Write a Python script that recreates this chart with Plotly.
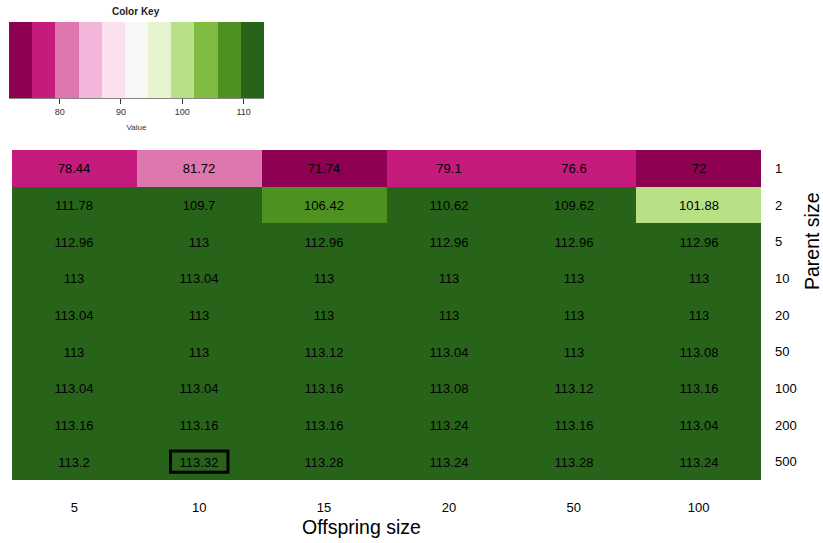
import plotly.graph_objects as go

offspring = ["5", "10", "15", "20", "50", "100"]
parent = ["1", "2", "5", "10", "20", "50", "100", "200", "500"]
values = [
    ["78.44", "81.72", "71.74", "79.1", "76.6", "72"],
    ["111.78", "109.7", "106.42", "110.62", "109.62", "101.88"],
    ["112.96", "113", "112.96", "112.96", "112.96", "112.96"],
    ["113", "113.04", "113", "113", "113", "113"],
    ["113.04", "113", "113", "113", "113", "113"],
    ["113", "113", "113.12", "113.04", "113", "113.08"],
    ["113.04", "113.04", "113.16", "113.08", "113.12", "113.16"],
    ["113.16", "113.16", "113.16", "113.24", "113.16", "113.04"],
    ["113.2", "113.32", "113.28", "113.24", "113.28", "113.24"],
]
palette = ["#8E0152", "#C51B7D", "#DE77AE", "#F1B6DA", "#FDE0EF", "#F7F7F7",
           "#E6F5D0", "#B8E186", "#7FBC41", "#4D9221", "#276419"]
key_ticks = [80, 90, 100, 110]
best = ("10", "500")

z = [[float(v) for v in row] for row in values]
zmin = min(min(r) for r in z)
zmax = max(max(r) for r in z)
n = len(palette)
cs = []
for i, c in enumerate(palette):
    cs.append([i / n, c])
    cs.append([(i + 1) / n, c])

W, H = 823, 543
def px(x): return x / W
def py(y): return 1 - y / H

fig = go.Figure()
fig.add_trace(go.Heatmap(
    z=z, x=offspring, y=parent, text=values, texttemplate="%{text}",
    textfont=dict(size=13, color="black", family="Liberation Sans"),
    colorscale=cs, zmin=zmin, zmax=zmax, showscale=False,
    xaxis="x", yaxis="y", hoverinfo="skip"))

step = (zmax - zmin) / n
edges = [zmin + i * step for i in range(n + 1)]
centers = [zmin + (i + 0.5) * step for i in range(n)]
fig.add_trace(go.Heatmap(
    z=[centers], x=edges, y=[0, 1], colorscale=cs, zmin=zmin, zmax=zmax,
    showscale=False, xaxis="x2", yaxis="y2", hoverinfo="skip"))

bi = offspring.index(best[0])
bj = parent.index(best[1])
fig.add_shape(type="rect", xref="x", yref="y",
              x0=bi - 0.23, x1=bi + 0.23, y0=bj - 0.29, y1=bj + 0.29,
              line=dict(color="black", width=3))

fig.update_layout(
    width=W, height=H, margin=dict(l=0, r=0, t=0, b=0),
    plot_bgcolor="white", paper_bgcolor="white",
    font=dict(family="Liberation Sans", color="black"),
    xaxis=dict(domain=[px(12), px(761)], type="category", showgrid=False,
               zeroline=False, ticks="", ticklabelstandoff=18,
               tickfont=dict(size=13), anchor="y"),
    yaxis=dict(domain=[py(480), py(150)], type="category", autorange="reversed",
               showgrid=False, zeroline=False, ticks="", side="right",
               ticklabelstandoff=13, tickfont=dict(size=13), anchor="x"),
    xaxis2=dict(domain=[px(9), px(264)], range=[zmin, zmax], anchor="y2",
                tickvals=key_ticks, ticks="outside", ticklen=5, tickcolor="#333",
                tickfont=dict(size=9, color="#333"), showgrid=False, zeroline=False,
                showline=True, linecolor="#888", linewidth=1,
                title=dict(text="Value", font=dict(size=8, color="#333"), standoff=8)),
    yaxis2=dict(domain=[py(98), py(22)], range=[0, 1], anchor="x2",
                showticklabels=False, showgrid=False, zeroline=False, ticks=""),
    annotations=[
        dict(text="<b>Color Key</b>", x=px(136), y=py(12), xref="paper", yref="paper",
             xanchor="center", yanchor="middle",
             showarrow=False, font=dict(size=10, color="#222")),
        dict(text="Parent size", x=px(812), y=py(241), xref="paper", yref="paper",
             xanchor="center", yanchor="middle",
             showarrow=False, textangle=-90, font=dict(size=19.5)),
        dict(text="Offspring size", x=px(361), y=py(527), xref="paper", yref="paper",
             xanchor="center", yanchor="middle",
             showarrow=False, font=dict(size=19.5)),
    ],
)
fig.write_html("out.html")
